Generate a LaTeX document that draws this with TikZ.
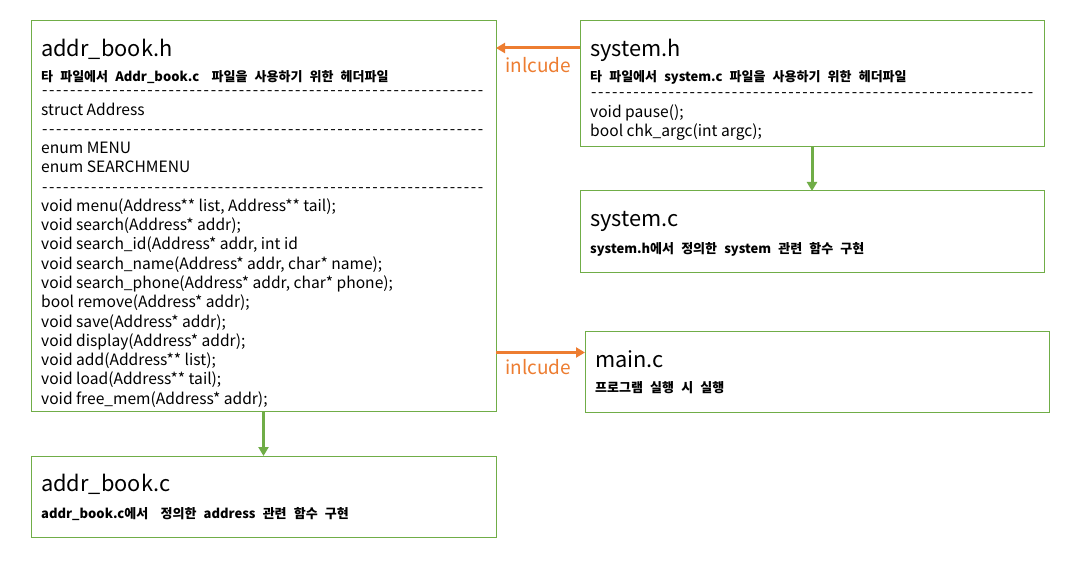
\documentclass[tikz,border=0pt]{standalone}
\usepackage{fontspec}
\setmainfont{Noto Sans CJK KR}
\usetikzlibrary{arrows.meta}
\definecolor{boxgreen}{RGB}{112,173,71}
\definecolor{incorange}{RGB}{237,125,49}
\newcommand{\dashrule}[1]{\hbox to #1{\xleaders\hbox{\kern0.8pt-\kern0.8pt}\hfil}}
\newcommand{\wsp}{\hspace{0.4em}}
\newcommand{\widesp}{\spaceskip=0.55em\relax}
\begin{document}
\begin{tikzpicture}[x=1pt,y=-1pt,
  filebox/.style={draw=boxgreen, line width=1pt, anchor=north west, inner sep=0pt, outer sep=0pt},
  ttl/.style={anchor=base west, inner sep=0pt, font=\fontsize{21.8}{22}\selectfont},
  subt/.style={anchor=base west, inner sep=0pt, font=\fontsize{13}{13}\selectfont\bfseries},
  body/.style={anchor=base west, inner sep=0pt, font=\fontsize{15.6}{16}\selectfont},
  inclabel/.style={anchor=base west, inner sep=0pt, text=incorange, font=\fontsize{19}{19}\selectfont},
  incarrow/.style={draw=incorange, line width=3pt, -{Triangle[length=9pt,width=10pt]}},
  grnarrow/.style={draw=boxgreen, line width=3pt, -{Triangle[length=9pt,width=10pt]}}
]
\useasboundingbox[fill=white] (0,0) rectangle (1091,569);

% boxes
\node[filebox, minimum width=465pt, minimum height=390pt] (ah) at (31,21) {};
\node[filebox, minimum width=464pt, minimum height=126pt] (sh) at (580,21) {};
\node[filebox, minimum width=464pt, minimum height=81pt] (sc) at (580,191) {};
\node[filebox, minimum width=464pt, minimum height=81pt] (mc) at (585,331) {};
\node[filebox, minimum width=465pt, minimum height=81pt] (ac) at (31,456) {};

% addr_book.h
\node[ttl] (ahT) at (41,57) {addr\_book.h};
\node[subt] (ahS) at (41,82) {\widesp 타 파일에서 Addr\_book.c\wsp{} 파일을 사용하기 위한 헤더파일};
\foreach \t [count=\i from 0] in {
  {\dashrule{443pt}},
  {struct Address},
  {\dashrule{443pt}},
  {enum MENU},
  {enum SEARCHMENU},
  {\dashrule{443pt}},
  {void menu(Address** list, Address** tail);},
  {void search(Address* addr);},
  {void search\_id(Address* addr, int id},
  {void search\_name(Address* addr, char* name);},
  {void search\_phone(Address* addr, char* phone);},
  {bool remove(Address* addr);},
  {void save(Address* addr);},
  {void display(Address* addr);},
  {void add(Address** list);},
  {void load(Address** tail);},
  {void free\_mem(Address* addr);}}
  \node[body] (ahL\i) at (41,{96+\i*19.25}) {\t};

% system.h
\node[ttl] (shT) at (590,57) {system.h};
\node[subt] (shS) at (590,82) {\widesp 타 파일에서 system.c 파일을 사용하기 위한 헤더파일};
\node[body] (shL0) at (590,98) {\dashrule{444pt}};
\node[body] (shL1) at (590,118) {void pause();};
\node[body] (shL2) at (590,137) {bool chk\_argc(int argc);};

% system.c
\node[ttl] (scT) at (590,226) {system.c};
\node[subt] (scS) at (590,253) {\widesp system.h에서 정의한 system 관련 함수 구현};

% main.c
\node[ttl] (mcT) at (595,367) {main.c};
\node[subt] (mcS) at (595,392) {\widesp 프로그램 실행 시 실행};

% addr_book.c
\node[ttl] (acT) at (41,491) {addr\_book.c};
\node[subt] (acS) at (41,518) {\widesp addr\_book.c에서\wsp{} 정의한 address 관련 함수 구현};

% connectors
\draw[incarrow] ([yshift=-27pt]sh.north west) -- ([yshift=-27pt]ah.north east);
\node[inclabel] (inc1) at (505,73) {inlcude};
\coordinate (m1) at ([yshift=-21.5pt]mc.north west);
\draw[incarrow] (m1 -| ah.east) -- (m1);
\node[inclabel] (inc2) at (505,374) {inlcude};
\draw[grnarrow] (sh.south) -- (sc.north);
\draw[grnarrow] (ah.south) -- (ac.north);
\end{tikzpicture}
\end{document}
